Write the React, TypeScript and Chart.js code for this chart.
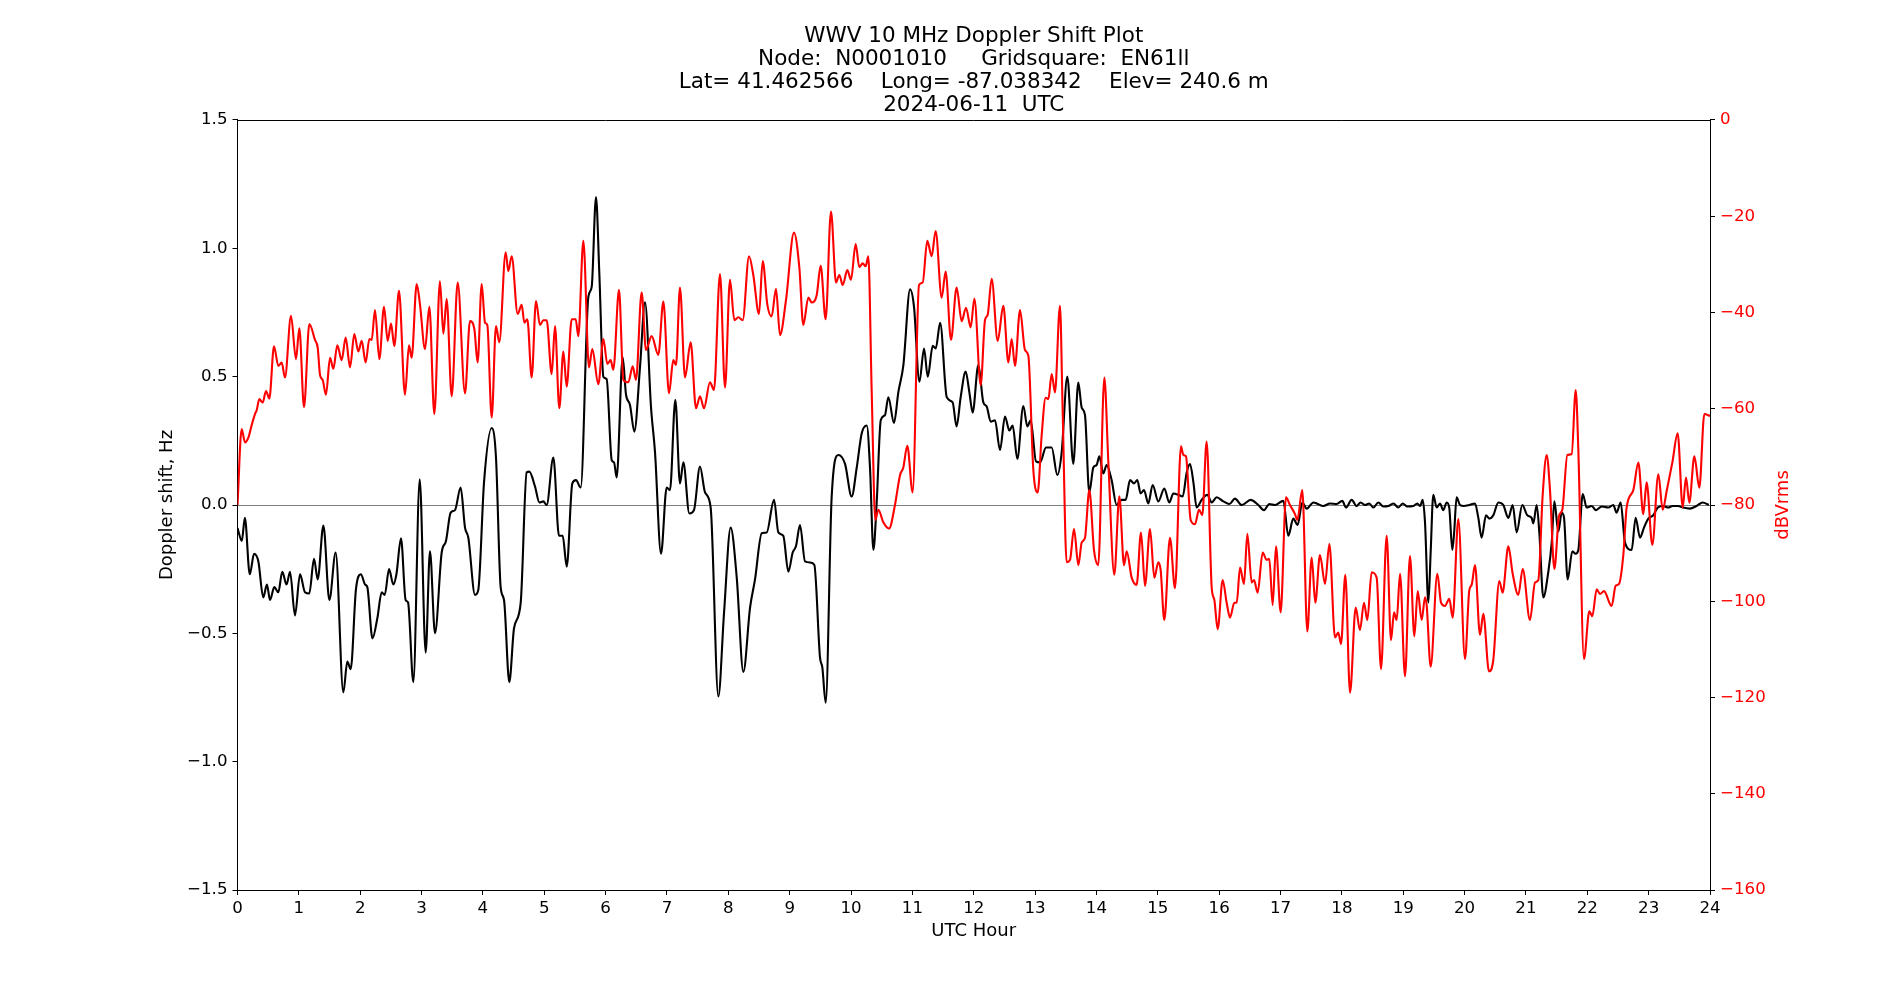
import React, { useEffect, useRef } from 'react';
import { Chart, registerables } from 'chart.js';

Chart.register(...registerables);

const titleLines = [
  'WWV 10 MHz Doppler Shift Plot',
  'Node:  N0001010     Gridsquare:  EN61ll',
  'Lat= 41.462566    Long= -87.038342    Elev= 240.6 m',
  '2024-06-11  UTC',
];
const xLabel = 'UTC Hour';
const leftLabel = 'Doppler shift, Hz';
const rightLabel = 'dBVrms';

const hourTicks = { min: 0, max: 24, step: 1 };
const dopplerTicks = { min: -1.5, max: 1.5, step: 0.5 };
const dbTicks = { min: -160, max: 0, step: 20 };

// Doppler shift (Hz), black trace
const dopplerHours = [
  0.0, 0.07, 0.12, 0.2, 0.27, 0.34, 0.42, 0.48, 0.53, 0.6, 0.665, 0.73, 0.8, 0.856, 0.937, 1.019, 1.1, 1.17, 1.247, 1.307,
  1.4, 1.497, 1.6, 1.725, 1.79, 1.845, 1.93, 2.01, 2.08, 2.116, 2.2, 2.28, 2.35, 2.4, 2.47, 2.54, 2.59, 2.665, 2.74, 2.78,
  2.866, 2.97, 3.067, 3.137, 3.219, 3.328, 3.398, 3.474, 3.545, 3.637, 3.708, 3.762, 3.871, 3.925, 4.018, 4.143, 4.213, 4.289, 4.344, 4.43,
  4.507, 4.616, 4.713, 4.756, 4.849, 4.92, 4.985, 5.039, 5.148, 5.24, 5.3, 5.366, 5.457, 5.517, 5.594, 5.718, 5.773, 5.843, 5.897, 5.963,
  6.017, 6.099, 6.137, 6.18, 6.278, 6.332, 6.397, 6.468, 6.56, 6.642, 6.74, 6.805, 6.903, 6.995, 7.049, 7.136, 7.212, 7.267, 7.364, 7.44,
  7.538, 7.62, 7.712, 7.837, 7.93, 8.038, 8.136, 8.245, 8.354, 8.435, 8.544, 8.625, 8.745, 8.815, 8.896, 8.978, 9.049, 9.103, 9.168, 9.25,
  9.331, 9.402, 9.494, 9.532, 9.587, 9.684, 9.793, 9.902, 10.01, 10.093, 10.174, 10.256, 10.309, 10.364, 10.418, 10.484, 10.553, 10.608, 10.7, 10.771,
  10.853, 10.962, 11.027, 11.114, 11.19, 11.25, 11.332, 11.381, 11.452, 11.56, 11.656, 11.72, 11.787, 11.868, 11.928, 11.982, 12.075, 12.156, 12.211, 12.276,
  12.346, 12.428, 12.509, 12.58, 12.634, 12.71, 12.808, 12.873, 12.928, 13.015, 13.08, 13.178, 13.27, 13.362, 13.433, 13.525, 13.622, 13.704, 13.759, 13.813,
  13.883, 13.949, 14.003, 14.047, 14.112, 14.166, 14.247, 14.329, 14.41, 14.476, 14.547, 14.612, 14.666, 14.72, 14.775, 14.845, 14.916, 15.008, 15.106, 15.187,
  15.253, 15.334, 15.405, 15.471, 15.525, 15.58, 15.633, 15.715, 15.807, 15.878, 15.96, 16.068, 16.166, 16.258, 16.367, 16.514, 16.638, 16.731, 16.818, 16.91,
  17.046, 17.127, 17.208, 17.28, 17.355, 17.425, 17.535, 17.59, 17.7, 17.806, 17.915, 18.007, 18.067, 18.16, 18.241, 18.306, 18.377, 18.447, 18.513, 18.594,
  18.676, 18.757, 18.839, 18.92, 18.991, 19.067, 19.165, 19.23, 19.274, 19.317, 19.355, 19.41, 19.447, 19.49, 19.545, 19.599, 19.653, 19.708, 19.75, 19.8,
  19.83, 19.87, 19.925, 19.99, 20.077, 20.17, 20.224, 20.278, 20.349, 20.403, 20.468, 20.55, 20.631, 20.713, 20.784, 20.849, 20.94, 21.022, 21.093, 21.12,
  21.175, 21.218, 21.283, 21.365, 21.42, 21.463, 21.528, 21.583, 21.62, 21.68, 21.756, 21.81, 21.854, 21.926, 21.99, 22.072, 22.142, 22.234, 22.343, 22.424,
  22.478, 22.544, 22.614, 22.723, 22.788, 22.859, 22.924, 22.995, 23.076, 23.147, 23.238, 23.32, 23.391, 23.48, 23.56, 23.67, 23.78, 23.88, 23.98,
];
const dopplerHz = [
  -0.09, -0.14, -0.05, -0.27, -0.19, -0.22, -0.36, -0.31, -0.37, -0.32, -0.34, -0.26, -0.31, -0.26, -0.43, -0.27, -0.34, -0.345, -0.21, -0.29,
  -0.08, -0.37, -0.185, -0.73, -0.61, -0.64, -0.33, -0.27, -0.31, -0.32, -0.52, -0.44, -0.34, -0.35, -0.25, -0.31, -0.27, -0.13, -0.37, -0.38,
  -0.69, 0.1, -0.575, -0.18, -0.5, -0.185, -0.14, -0.03, -0.02, 0.068, -0.088, -0.127, -0.35, -0.33, 0.088, 0.3, 0.185, -0.32, -0.37, -0.69,
  -0.48, -0.38, 0.127, 0.13, 0.072, 0.01, 0.014, 0.0, 0.185, -0.12, -0.12, -0.24, 0.084, 0.097, 0.068, 0.81, 0.85, 1.2, 0.905, 0.5,
  0.49, 0.175, 0.166, 0.107, 0.575, 0.43, 0.39, 0.286, 0.536, 0.79, 0.38, 0.205, -0.19, 0.068, 0.058, 0.41, 0.084, 0.166, -0.033, -0.02,
  0.15, 0.049, -0.01, -0.746, -0.42, -0.088, -0.28, -0.65, -0.4, -0.29, -0.11, -0.107, 0.02, -0.107, -0.12, -0.26, -0.185, -0.16, -0.078, -0.22,
  -0.224, -0.234, -0.594, -0.633, -0.77, 0.03, 0.195, 0.16, 0.033, 0.146, 0.28, 0.31, 0.146, -0.175, 0.01, 0.33, 0.35, 0.42, 0.32, 0.44,
  0.545, 0.84, 0.77, 0.48, 0.61, 0.5, 0.62, 0.61, 0.71, 0.42, 0.4, 0.306, 0.42, 0.52, 0.44, 0.36, 0.545, 0.4, 0.384, 0.325,
  0.33, 0.214, 0.345, 0.29, 0.31, 0.18, 0.386, 0.306, 0.33, 0.17, 0.166, 0.224, 0.224, 0.117, 0.205, 0.5, 0.16, 0.477, 0.38, 0.35,
  0.049, 0.146, 0.156, 0.19, 0.123, 0.156, 0.097, 0.0, 0.02, 0.02, 0.097, 0.084, 0.097, 0.045, 0.058, 0.006, 0.078, 0.014, 0.064, 0.01,
  0.045, 0.04, 0.033, 0.127, 0.16, 0.088, -0.01, 0.02, 0.04, 0.01, 0.03, 0.014, 0.004, 0.025, 0.0, 0.02, 0.0, -0.02, 0.004, 0.0,
  0.016, -0.12, -0.053, -0.078, 0.01, -0.014, 0.01, 0.006, -0.004, 0.006, 0.004, 0.016, -0.01, 0.02, -0.004, 0.01, 0.0, 0.006, -0.01, 0.01,
  -0.006, -0.004, 0.006, -0.01, 0.006, -0.006, -0.004, 0.006, -0.004, 0.02, -0.068, -0.38, -0.185, 0.04, -0.01, 0.006, -0.02, 0.01, -0.01, -0.175,
  -0.107, 0.03, 0.0, -0.004, 0.0, 0.006, -0.05, -0.127, -0.04, -0.053, -0.04, 0.01, 0.0, -0.05, 0.0, -0.107, 0.0, -0.04, -0.05, -0.072,
  0.0, -0.107, -0.36, -0.26, -0.146, 0.014, -0.103, -0.03, -0.048, -0.29, -0.18, -0.19, -0.175, 0.043, -0.01, -0.004, -0.02, -0.006, -0.01, 0.0,
  -0.03, 0.01, -0.146, -0.175, -0.05, -0.127, -0.088, -0.053, -0.04, -0.01, -0.004, -0.01, -0.004, -0.004, -0.01, -0.014, -0.004, 0.01, 0.0,
];

// Signal level (dBVrms), red trace
const signalHours = [
  0.0, 0.068, 0.122, 0.177, 0.231, 0.285, 0.313, 0.356, 0.41, 0.465, 0.519, 0.595, 0.666, 0.72, 0.774, 0.872, 0.953, 1.008, 1.084, 1.171,
  1.263, 1.307, 1.345, 1.388, 1.442, 1.508, 1.562, 1.627, 1.698, 1.763, 1.834, 1.904, 1.969, 2.024, 2.089, 2.149, 2.187, 2.241, 2.312, 2.388,
  2.448, 2.502, 2.556, 2.632, 2.73, 2.795, 2.839, 2.92, 2.975, 3.056, 3.127, 3.208, 3.3, 3.355, 3.409, 3.491, 3.589, 3.708, 3.789, 3.86,
  3.914, 3.98, 4.034, 4.072, 4.143, 4.213, 4.267, 4.371, 4.414, 4.469, 4.566, 4.632, 4.675, 4.724, 4.795, 4.865, 4.93, 4.985, 5.039, 5.121,
  5.175, 5.245, 5.311, 5.365, 5.447, 5.512, 5.555, 5.637, 5.729, 5.783, 5.881, 5.963, 6.028, 6.082, 6.126, 6.218, 6.289, 6.37, 6.441, 6.495,
  6.587, 6.658, 6.75, 6.859, 6.941, 7.033, 7.103, 7.147, 7.212, 7.294, 7.386, 7.473, 7.538, 7.603, 7.701, 7.766, 7.864, 7.946, 8.027, 8.098,
  8.163, 8.234, 8.337, 8.407, 8.5, 8.56, 8.636, 8.706, 8.777, 8.842, 8.94, 9.07, 9.157, 9.222, 9.304, 9.358, 9.44, 9.505, 9.586, 9.673,
  9.755, 9.809, 9.864, 9.94, 9.999, 10.075, 10.135, 10.19, 10.238, 10.282, 10.336, 10.396, 10.445, 10.526, 10.619, 10.716, 10.798, 10.852, 10.917, 11.004,
  11.108, 11.167, 11.243, 11.314, 11.379, 11.477, 11.542, 11.629, 11.721, 11.803, 11.874, 11.95, 12.01, 12.113, 12.183, 12.227, 12.292, 12.39, 12.482, 12.564,
  12.618, 12.672, 12.754, 12.835, 12.89, 12.971, 13.042, 13.107, 13.172, 13.216, 13.27, 13.324, 13.405, 13.449, 13.514, 13.569, 13.634, 13.705, 13.759, 13.813,
  13.884, 13.96, 14.03, 14.128, 14.194, 14.291, 14.373, 14.449, 14.493, 14.574, 14.655, 14.726, 14.791, 14.873, 14.943, 15.008, 15.046, 15.106, 15.198, 15.28,
  15.378, 15.416, 15.459, 15.535, 15.606, 15.671, 15.725, 15.796, 15.878, 15.921, 15.976, 16.057, 16.122, 16.177, 16.247, 16.286, 16.34, 16.405, 16.459, 16.53,
  16.568, 16.627, 16.709, 16.774, 16.817, 16.872, 16.926, 17.002, 17.089, 17.154, 17.236, 17.274, 17.355, 17.437, 17.508, 17.567, 17.643, 17.725, 17.796, 17.888,
  17.942, 17.986, 18.056, 18.133, 18.225, 18.295, 18.36, 18.415, 18.485, 18.567, 18.638, 18.73, 18.801, 18.85, 18.893, 18.948, 19.029, 19.11, 19.181, 19.236,
  19.301, 19.355, 19.382, 19.447, 19.556, 19.616, 19.68, 19.751, 19.806, 19.898, 20.007, 20.077, 20.115, 20.17, 20.251, 20.305, 20.398, 20.468, 20.566, 20.62,
  20.713, 20.784, 20.876, 20.947, 21.066, 21.148, 21.202, 21.273, 21.338, 21.392, 21.463, 21.539, 21.593, 21.675, 21.746, 21.811, 21.854, 21.946, 22.033, 22.082,
  22.153, 22.207, 22.272, 22.397, 22.462, 22.517, 22.587, 22.642, 22.75, 22.832, 22.913, 22.967, 23.06, 23.158, 23.229, 23.294, 23.386, 23.473, 23.555, 23.609,
  23.663, 23.745, 23.826, 23.908, 24.0,
];
const signalDb = [
  -80, -64.2, -67.0, -66.0, -63.4, -61.1, -60.3, -58.0, -58.7, -56.3, -57.9, -47.0, -51.1, -50.4, -53.5, -40.7, -49.7, -43.3, -59.7, -42.4,
  -45.7, -47.3, -53.0, -54.0, -57.1, -49.4, -51.7, -46.8, -49.9, -45.2, -51.4, -44.5, -48.1, -45.9, -50.4, -45.5, -45.7, -39.5, -49.7, -38.8,
  -45.9, -42.3, -47.0, -35.5, -57.1, -46.8, -49.4, -34.1, -38.4, -47.6, -38.8, -61.1, -33.5, -44.4, -37.2, -57.4, -33.8, -56.8, -41.8, -43.4,
  -50.4, -34.1, -42.1, -42.6, -61.8, -42.8, -46.2, -27.5, -31.4, -28.3, -40.3, -38.4, -42.1, -41.4, -53.5, -37.6, -42.6, -41.6, -41.6, -52.8,
  -42.8, -59.9, -48.1, -55.4, -41.4, -41.4, -44.9, -25.1, -51.4, -47.6, -54.9, -45.5, -50.7, -49.9, -51.9, -35.3, -54.0, -54.5, -51.2, -54.0,
  -35.8, -47.8, -44.9, -48.8, -37.7, -56.8, -49.9, -50.9, -34.8, -53.5, -46.2, -59.9, -57.4, -59.9, -54.5, -56.1, -32.0, -55.6, -33.2, -41.6,
  -41.0, -41.6, -28.3, -32.2, -40.3, -29.3, -38.4, -40.8, -35.1, -44.7, -37.4, -23.4, -30.6, -42.6, -36.9, -37.9, -36.4, -30.3, -41.4, -19.0,
  -33.8, -32.2, -34.3, -31.2, -33.2, -25.8, -30.6, -29.8, -30.4, -28.3, -56.1, -83.1, -81.0, -83.6, -84.9, -80.0, -73.8, -72.2, -67.7, -77.4,
  -34.3, -33.8, -25.1, -28.3, -23.1, -36.9, -31.5, -45.7, -34.8, -41.8, -39.0, -43.1, -37.1, -55.1, -41.6, -40.5, -33.0, -45.9, -38.6, -50.4,
  -45.5, -51.1, -39.5, -47.8, -49.0, -72.7, -77.4, -65.5, -57.7, -58.0, -52.8, -56.6, -38.6, -60.3, -91.9, -91.4, -85.0, -92.5, -87.8, -86.8,
  -76.9, -89.4, -92.5, -53.5, -71.2, -94.5, -78.2, -92.5, -89.6, -95.1, -96.6, -85.7, -96.8, -85.0, -95.1, -91.9, -93.5, -103.9, -86.8, -97.3,
  -67.8, -69.6, -69.9, -83.1, -84.0, -81.0, -82.1, -66.8, -97.1, -99.7, -105.8, -95.6, -100.3, -103.4, -100.3, -100.3, -93.0, -96.4, -86.0, -96.1,
  -95.6, -98.2, -89.9, -91.4, -91.2, -100.8, -88.6, -102.3, -78.4, -80.0, -81.9, -83.1, -76.9, -106.3, -90.9, -100.3, -90.4, -96.4, -88.1, -107.5,
  -106.5, -108.9, -94.5, -119.0, -101.3, -106.0, -100.3, -103.9, -94.0, -95.1, -114.1, -86.4, -108.1, -102.3, -103.9, -94.3, -115.6, -90.6, -107.3, -97.9,
  -103.9, -99.2, -100.8, -113.6, -94.3, -100.3, -101.0, -99.5, -103.4, -82.9, -112.0, -97.7, -96.6, -92.5, -107.0, -102.6, -114.6, -112.2, -95.8, -98.2,
  -88.6, -94.3, -98.7, -93.3, -103.9, -96.1, -95.6, -77.9, -69.6, -76.9, -93.3, -82.3, -81.0, -69.6, -69.4, -56.1, -68.6, -112.0, -102.1, -103.1,
  -97.5, -98.5, -97.9, -101.0, -96.8, -96.4, -90.4, -80.5, -76.9, -71.2, -81.9, -75.3, -88.3, -73.6, -81.0, -77.1, -71.2, -65.1, -80.5, -74.3,
  -79.5, -69.9, -76.4, -61.1, -61.5,
];

const FONT = '"DejaVu Sans", "Liberation Sans", sans-serif';
const TICK_PX = 16.67;
const LABEL_PX = 18;
const TITLE_PX = 21.5;
const minus = (s: string) => s.replace('-', '\u2212');

const framePlugin = {
  id: 'frameAndRightTitle',
  afterDraw(chart: any) {
    const { ctx, chartArea: a } = chart;
    ctx.save();
    ctx.strokeStyle = '#000000';
    ctx.lineWidth = 1;
    ctx.beginPath();
    ctx.moveTo(a.left, Math.round(a.top) + 0.5);
    ctx.lineTo(a.right, Math.round(a.top) + 0.5);
    ctx.stroke();
    ctx.fillStyle = '#ff0000';
    ctx.font = `${LABEL_PX}px ${FONT}`;
    ctx.translate(1783, (a.top + a.bottom) / 2);
    ctx.rotate(-Math.PI / 2);
    ctx.textAlign = 'center';
    ctx.textBaseline = 'middle';
    ctx.fillText(rightLabel, 0, 0);
    ctx.restore();
  },
};

export default function App() {
  const canvasRef = useRef<HTMLCanvasElement | null>(null);

  useEffect(() => {
    const canvas = canvasRef.current;
    if (!canvas) return;
    const dopplerData = dopplerHours.map((h, i) => ({ x: h, y: dopplerHz[i] }));
    const signalData = signalHours.map((h, i) => ({ x: h, y: signalDb[i] }));

    const chart = new Chart(canvas, {
      type: 'line',
      data: {
        datasets: [
          {
            label: 'dBVrms',
            data: signalData,
            yAxisID: 'yRight',
            borderColor: '#ff0000',
            borderWidth: 2.1,
            pointRadius: 0,
            fill: false,
            cubicInterpolationMode: 'monotone',
            order: 0,
          },
          {
            label: 'Doppler shift, Hz',
            data: dopplerData,
            yAxisID: 'y',
            borderColor: '#000000',
            borderWidth: 2.1,
            pointRadius: 0,
            fill: false,
            cubicInterpolationMode: 'monotone',
            order: 1,
          },
        ],
      },
      plugins: [framePlugin],
      options: {
        responsive: false,
        maintainAspectRatio: false,
        devicePixelRatio: 1,
        animation: false,
        events: [],
        layout: { padding: 0 },
        plugins: {
          legend: { display: false },
          tooltip: { enabled: false },
          title: {
            display: true,
            fullSize: false,
            text: titleLines,
            color: '#000000',
            font: { family: FONT, size: TITLE_PX, lineHeight: 23 / TITLE_PX, weight: 'normal' },
            padding: { top: 25, bottom: 3 },
          },
        },
        scales: {
          x: {
            type: 'linear',
            position: 'bottom',
            min: hourTicks.min,
            max: hourTicks.max,
            afterFit: (s: any) => {
              s.height = 110;
            },
            ticks: {
              stepSize: hourTicks.step,
              autoSkip: false,
              maxRotation: 0,
              padding: 4,
              color: '#000000',
              font: { family: FONT, size: TICK_PX },
              callback: (v: any) => String(v),
            },
            grid: { drawOnChartArea: false, tickLength: 5, tickColor: '#000000', tickWidth: 1 },
            border: { display: true, color: '#000000', width: 1 },
            title: {
              display: true,
              text: xLabel,
              color: '#000000',
              font: { family: FONT, size: LABEL_PX, lineHeight: 1.2 },
              padding: { top: 0, bottom: 58.2 },
            },
          },
          y: {
            type: 'linear',
            position: 'left',
            min: dopplerTicks.min,
            max: dopplerTicks.max,
            afterFit: (s: any) => {
              s.width = 237.5;
            },
            ticks: {
              stepSize: dopplerTicks.step,
              padding: 5,
              color: '#000000',
              font: { family: FONT, size: TICK_PX },
              callback: (v: any) => minus(Number(v).toFixed(1)),
            },
            grid: {
              drawOnChartArea: true,
              color: (c: any) => (c.tick && Math.abs(c.tick.value) < 1e-9 ? '#808080' : 'rgba(0,0,0,0)'),
              lineWidth: 1,
              tickLength: 5,
              tickColor: '#000000',
              tickWidth: 1,
            },
            border: { display: true, color: '#000000', width: 1 },
            title: {
              display: true,
              text: leftLabel,
              color: '#000000',
              font: { family: FONT, size: LABEL_PX, lineHeight: 1.2 },
              padding: { top: 156.2, bottom: 0 },
            },
          },
          yRight: {
            type: 'linear',
            position: 'right',
            min: dbTicks.min,
            max: dbTicks.max,
            afterFit: (s: any) => {
              s.width = 190;
            },
            ticks: {
              stepSize: dbTicks.step,
              padding: 5,
              color: '#ff0000',
              font: { family: FONT, size: TICK_PX },
              callback: (v: any) => minus(String(Math.round(Number(v)))),
            },
            grid: { drawOnChartArea: false, tickLength: 5, tickColor: '#000000', tickWidth: 1 },
            border: { display: true, color: '#000000', width: 1 },
          },
        },
      },
    } as any);

    return () => {
      chart.destroy();
    };
  }, []);

  return (
    <div style={{ position: 'fixed', left: 0, top: 0, width: 1900, height: 1000, background: '#ffffff' }}>
      <canvas ref={canvasRef} width={1900} height={1000} style={{ display: 'block', width: 1900, height: 1000 }} />
    </div>
  );
}
